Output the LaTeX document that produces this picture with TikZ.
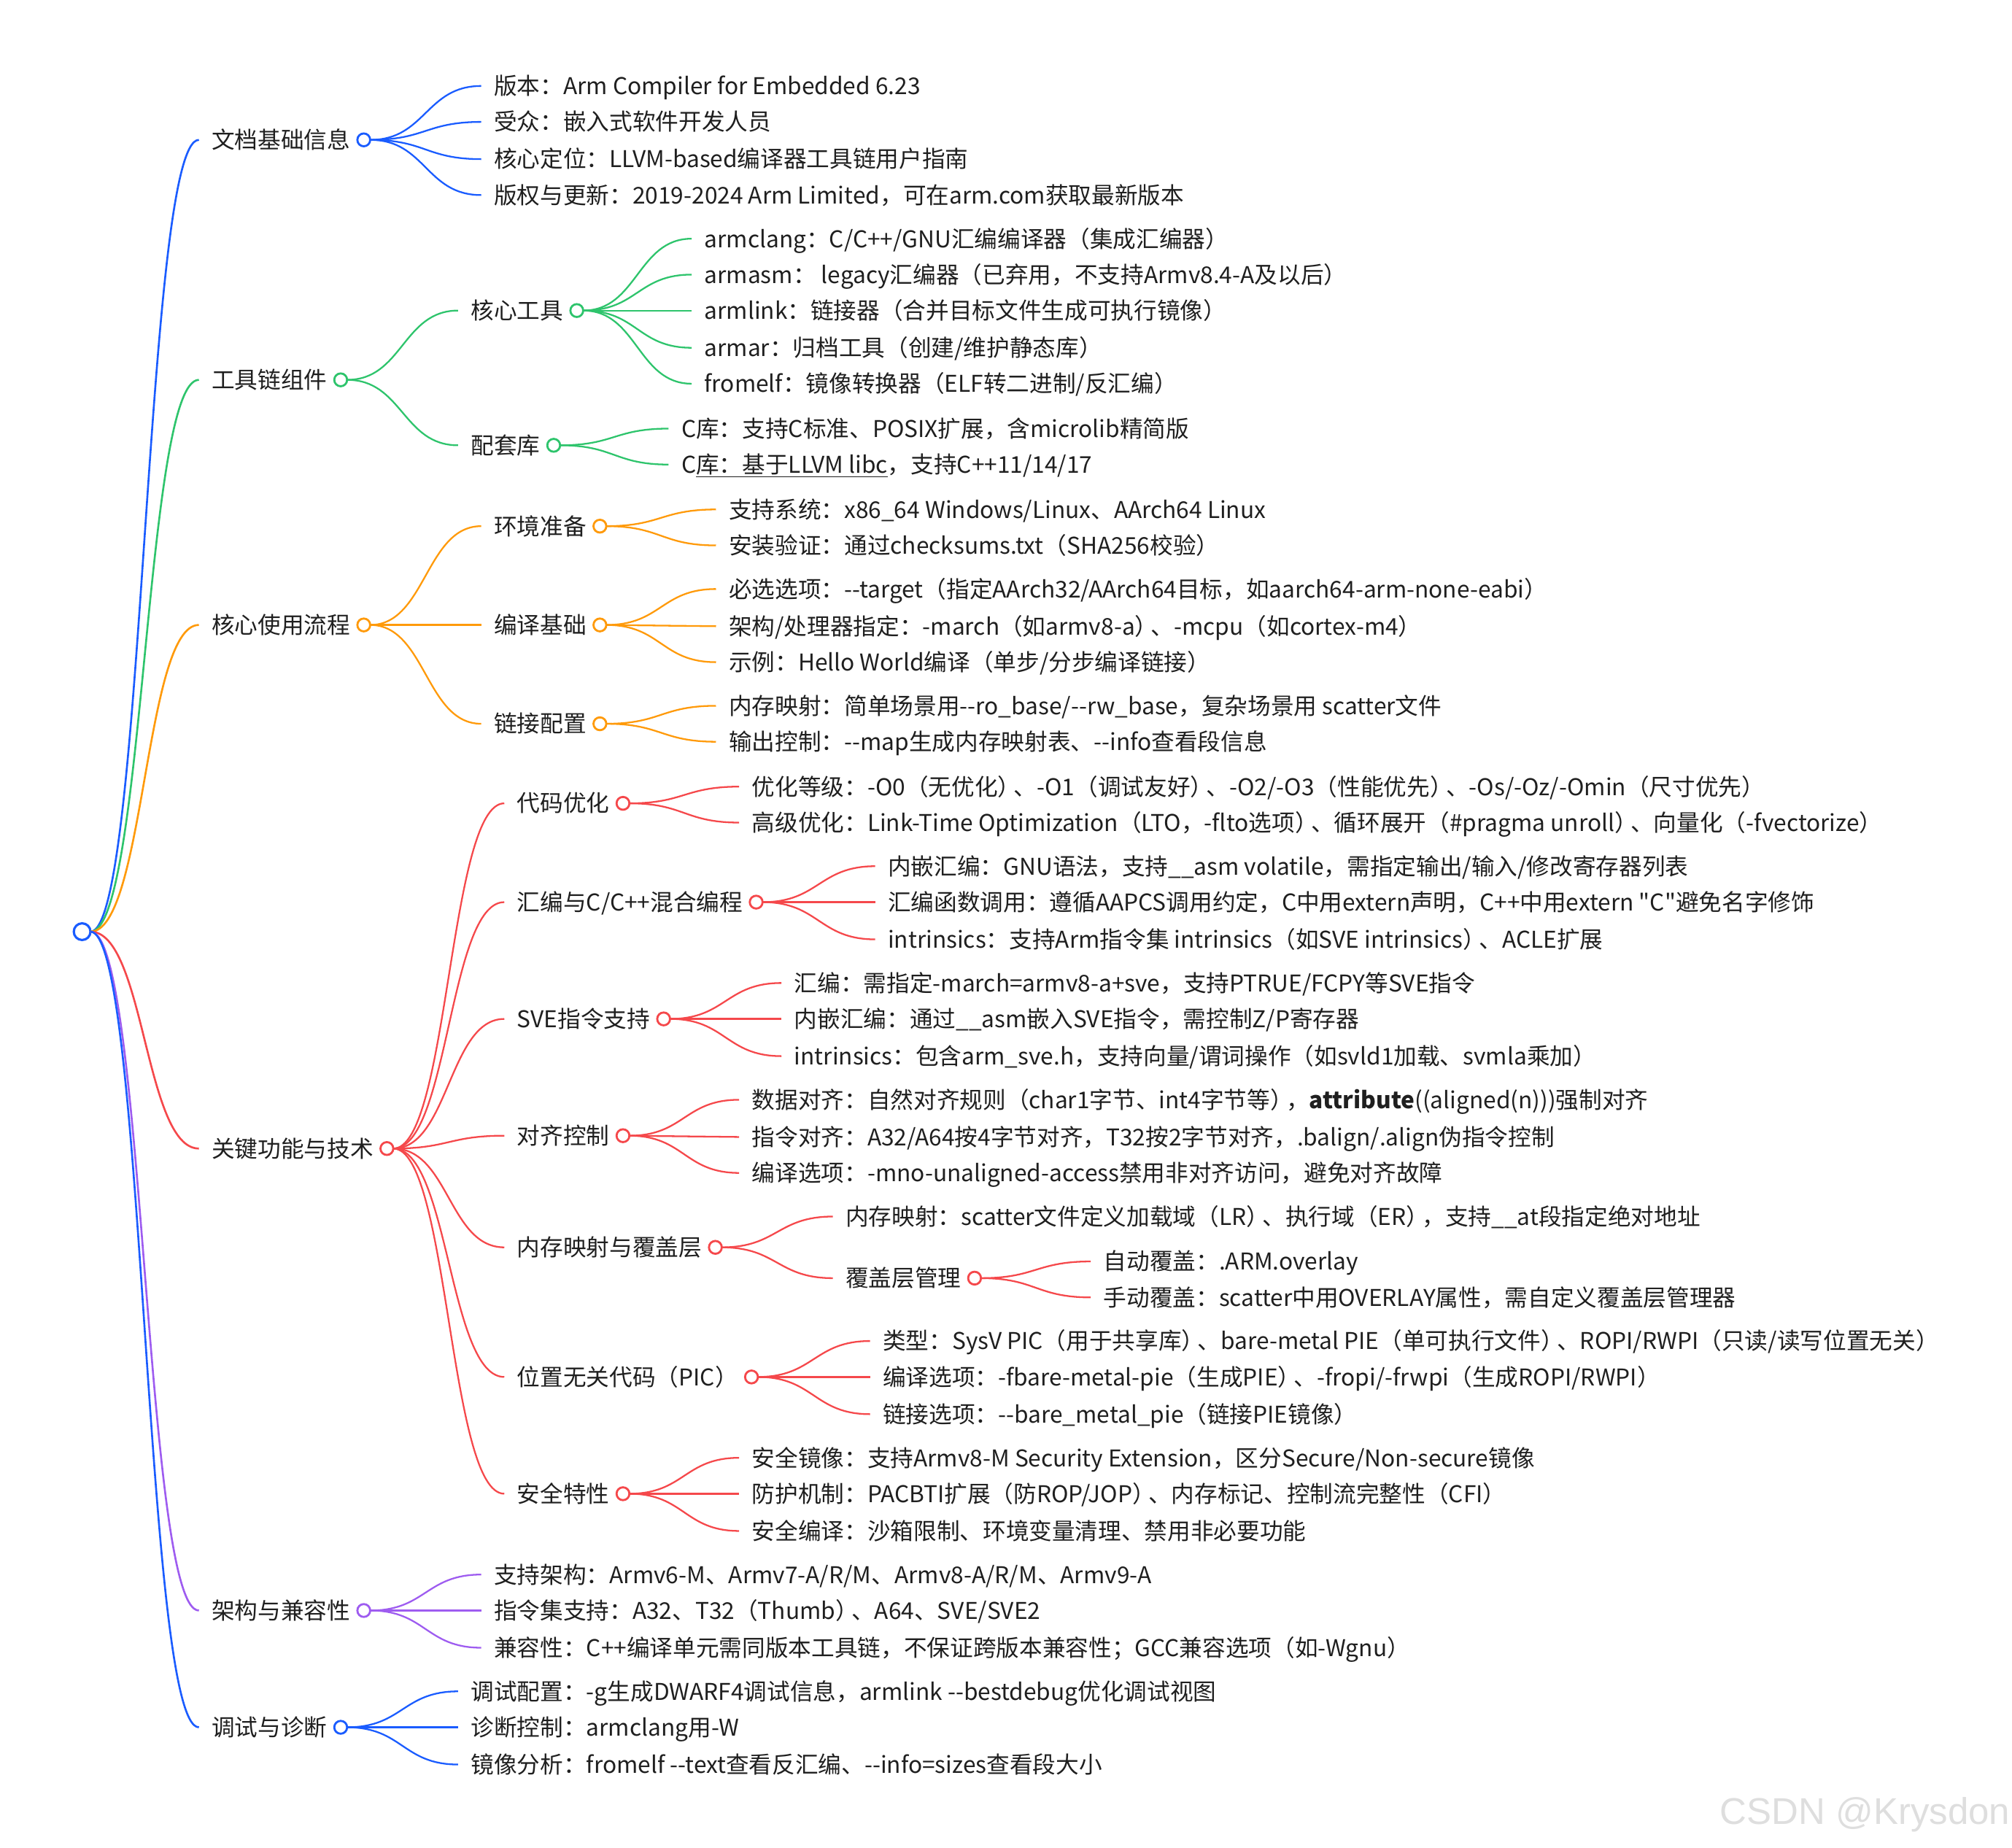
\documentclass[tikz,border=0pt]{standalone}
\usepackage{fontspec}
\setmainfont{Noto Sans CJK SC}[Ligatures=TeXOff]
\newfontfamily\wmfont{Liberation Sans}
\usetikzlibrary{calc,positioning}
\definecolor{mmblue}{HTML}{1A5CFF}
\definecolor{mmgreen}{HTML}{2EC46C}
\definecolor{mmorange}{HTML}{FF9A0A}
\definecolor{mmred}{HTML}{F5484B}
\definecolor{mmpurple}{HTML}{9E5CF0}
% squeeze between two CJK punctuation marks
\newcommand\cpk{\kern-5.5pt}
\begin{document}
\begin{tikzpicture}[x=1pt, y=-1pt,
  every node/.style={font=\fontsize{18}{20}\selectfont, text=black!88},
  txt/.style={anchor=west, inner sep=0pt, outer xsep=10pt, text height=15.5pt, text depth=2pt},
  knob/.style={circle, draw=#1, fill=white, line width=1.6pt, minimum size=10pt, inner sep=0pt, outer sep=0pt},
  lk/.style={line width=1.3pt, to path={let \p1=(\tikztostart), \p2=(\tikztotarget), \n1={0.5*\x1+0.5*\x2} in .. controls (\n1,\y1) and (\n1,\y2) .. (\tikztotarget)}}]
  \useasboundingbox (0,0) rectangle (1568,1440);
  % root
  \node[knob=mmblue, minimum size=13pt, line width=1.8pt] (root) at (64,726) {};
  % first level
  \foreach \s/\y/\c/\t in {A/109/mmblue/{文档基础信息}, B/296/mmgreen/{工具链组件}, C/487/mmorange/{核心使用流程}, D/895/mmred/{关键功能与技术}, E/1255/mmpurple/{架构与兼容性}, F/1346/mmblue/{调试与诊断}} {
    \node[txt] (\s) at (155,\y) {\t};
    \node[knob=\c, right=-4.5pt of \s] (\s-k) {};
    \draw[lk, \c, line width=1.5pt] (root.east) to (\s.west);
  }
  % 文档基础信息
  \foreach \y/\t [count=\i] in {67/{版本：Arm Compiler for Embedded 6.23}, 95/{受众：嵌入式软件开发人员}, 124/{核心定位：LLVM-based编译器工具链用户指南}, 152/{版权与更新：2019-2024 Arm Limited，可在arm.com获取最新版本}} {
    \node[txt] (A\i) at (375,\y) {\t};
    \draw[lk, mmblue] (A-k.east) to (A\i.west);
  }
  % 工具链组件
  \node[txt] (B1) at (357,242) {核心工具};
  \node[knob=mmgreen, right=-4.5pt of B1] (B1-k) {};
  \node[txt] (B2) at (357,347) {配套库};
  \node[knob=mmgreen, right=-4.5pt of B2] (B2-k) {};
  \foreach \s in {B1,B2} \draw[lk, mmgreen] (B-k.east) to (\s.west);
  \foreach \y/\t [count=\i] in {186/{armclang：C/C++/GNU汇编编译器（集成汇编器）}, 214/{armasm： legacy汇编器（已弃用，不支持Armv8.4-A及以后）}, 242/{armlink：链接器（合并目标文件生成可执行镜像）}, 271/{armar：归档工具（创建/维护静态库）}, 299/{fromelf：镜像转换器（ELF转二进制/反汇编）}} {
    \node[txt] (B1\i) at (539,\y) {\t};
    \draw[lk, mmgreen] (B1-k.east) to (B1\i.west);
  }
  \foreach \y/\t [count=\i] in {334/{C库：支持C标准、POSIX扩展，含microlib精简版}, 362/{C\underline{库：基于LLVM libc}，支持C++11/14/17}} {
    \node[txt] (B2\i) at (521,\y) {\t};
    \draw[lk, mmgreen] (B2-k.east) to (B2\i.west);
  }
  % 核心使用流程
  \foreach \s/\y/\t in {C1/410/{环境准备}, C2/487/{编译基础}, C3/564/{链接配置}} {
    \node[txt] (\s) at (375,\y) {\t};
    \node[knob=mmorange, right=-4.5pt of \s] (\s-k) {};
    \draw[lk, mmorange] (C-k.east) to (\s.west);
  }
  \foreach \y/\t [count=\i] in {397/{支持系统：x86\_64 Windows/Linux、AArch64 Linux}, 425/{安装验证：通过checksums.txt（SHA256校验）}} {
    \node[txt] (C1\i) at (558,\y) {\t};
    \draw[lk, mmorange] (C1-k.east) to (C1\i.west);
  }
  \foreach \y/\t [count=\i] in {459/{必选选项：--target（指定AArch32/AArch64目标，如aarch64-arm-none-eabi）}, 488/{架构/处理器指定：-march（如armv8-a）\cpk、-mcpu（如cortex-m4）}, 516/{示例：Hello World编译（单步/分步编译链接）}} {
    \node[txt] (C2\i) at (558,\y) {\t};
    \draw[lk, mmorange] (C2-k.east) to (C2\i.west);
  }
  \foreach \y/\t [count=\i] in {550/{内存映射：简单场景用--ro\_base/--rw\_base，复杂场景用 scatter文件}, 578/{输出控制：--map生成内存映射表、--info查看段信息}} {
    \node[txt] (C3\i) at (558,\y) {\t};
    \draw[lk, mmorange] (C3-k.east) to (C3\i.west);
  }
  % 关键功能与技术
  \foreach \s/\y/\t in {D1/626/{代码优化}, D2/703/{汇编与C/C++混合编程}, D3/794/{SVE指令支持}, D4/885/{对齐控制}, D5/972/{内存映射与覆盖层}, D6/1073/{位置无关代码（PIC）}, D7/1164/{安全特性}} {
    \node[txt] (\s) at (393,\y) {\t};
    \node[knob=mmred, right=-4.5pt of \s] (\s-k) {};
    \draw[lk, mmred] (D-k.east) to (\s.west);
  }
  \foreach \y/\t [count=\i] in {613/{优化等级：-O0（无优化）\cpk、-O1（调试友好）\cpk、-O2/-O3（性能优先）\cpk、-Os/-Oz/-Omin（尺寸优先）}, 641/{高级优化：Link-Time Optimization（LTO，-flto选项）\cpk、循环展开（\#pragma unroll）\cpk、向量化（-fvectorize）}} {
    \node[txt] (D1\i) at (576,\y) {\t};
    \draw[lk, mmred] (D1-k.east) to (D1\i.west);
  }
  \foreach \y/\t [count=\i] in {675/{内嵌汇编：GNU语法，支持\_\_asm volatile，需指定输出/输入/修改寄存器列表}, 703/{汇编函数调用：遵循AAPCS调用约定，C中用extern声明，C++中用extern "C"避免名字修饰}, 732/{intrinsics：支持Arm指令集 intrinsics（如SVE intrinsics）\cpk、ACLE扩展}} {
    \node[txt] (D2\i) at (682,\y) {\t};
    \draw[lk, mmred] (D2-k.east) to (D2\i.west);
  }
  \foreach \y/\t [count=\i] in {766/{汇编：需指定-march=armv8-a+sve，支持PTRUE/FCPY等SVE指令}, 794/{内嵌汇编：通过\_\_asm嵌入SVE指令，需控制Z/P寄存器}, 823/{intrinsics：包含arm\_sve.h，支持向量/谓词操作（如svld1加载、svmla乘加）}} {
    \node[txt] (D3\i) at (609,\y) {\t};
    \draw[lk, mmred] (D3-k.east) to (D3\i.west);
  }
  \foreach \y/\t [count=\i] in {857/{数据对齐：自然对齐规则（char1字节、int4字节等）\cpk，\textbf{attribute}((aligned(n)))强制对齐}, 886/{指令对齐：A32/A64按4字节对齐，T32按2字节对齐，.balign/.align伪指令控制}, 914/{编译选项：-mno-unaligned-access禁用非对齐访问，避免对齐故障}} {
    \node[txt] (D4\i) at (576,\y) {\t};
    \draw[lk, mmred] (D4-k.east) to (D4\i.west);
  }
  \node[txt] (D51) at (649,948) {内存映射：scatter文件定义加载域（LR）\cpk、执行域（ER）\cpk，支持\_\_at段指定绝对地址};
  \node[txt] (D52) at (649,996) {覆盖层管理};
  \node[knob=mmred, right=-4.5pt of D52] (D52-k) {};
  \foreach \s in {D51,D52} \draw[lk, mmred] (D5-k.east) to (\s.west);
  \foreach \y/\t [count=\i] in {983/{自动覆盖：.ARM.overlay}, 1011/{手动覆盖：scatter中用OVERLAY属性，需自定义覆盖层管理器}} {
    \node[txt] (D52\i) at (850,\y) {\t};
    \draw[lk, mmred] (D52-k.east) to (D52\i.west);
  }
  \foreach \y/\t [count=\i] in {1045/{类型：SysV PIC（用于共享库）\cpk、bare-metal PIE（单可执行文件）\cpk、ROPI/RWPI（只读/读写位置无关）}, 1073/{编译选项：-fbare-metal-pie（生成PIE）\cpk、-fropi/-frwpi（生成ROPI/RWPI）}, 1102/{链接选项：--bare\_metal\_pie（链接PIE镜像）}} {
    \node[txt] (D6\i) at (678,\y) {\t};
    \draw[lk, mmred] (D6-k.east) to (D6\i.west);
  }
  \foreach \y/\t [count=\i] in {1136/{安全镜像：支持Armv8-M Security Extension，区分Secure/Non-secure镜像}, 1164/{防护机制：PACBTI扩展（防ROP/JOP）\cpk、内存标记、控制流完整性（CFI）}, 1193/{安全编译：沙箱限制、环境变量清理、禁用非必要功能}} {
    \node[txt] (D7\i) at (576,\y) {\t};
    \draw[lk, mmred] (D7-k.east) to (D7\i.west);
  }
  % 架构与兼容性
  \foreach \y/\t [count=\i] in {1227/{支持架构：Armv6-M、Armv7-A/R/M、Armv8-A/R/M、Armv9-A}, 1255/{指令集支持：A32、T32（Thumb）\cpk、A64、SVE/SVE2}, 1284/{兼容性：C++编译单元需同版本工具链，不保证跨版本兼容性；GCC兼容选项（如-Wgnu）}} {
    \node[txt] (E\i) at (375,\y) {\t};
    \draw[lk, mmpurple] (E-k.east) to (E\i.west);
  }
  % 调试与诊断
  \foreach \y/\t [count=\i] in {1318/{调试配置：-g生成DWARF4调试信息，armlink --bestdebug优化调试视图}, 1346/{诊断控制：armclang用-W}, 1375/{镜像分析：fromelf --text查看反汇编、--info=sizes查看段大小}} {
    \node[txt] (F\i) at (357,\y) {\t};
    \draw[lk, mmblue] (F-k.east) to (F\i.west);
  }
  \node[font=\wmfont\fontsize{29}{29}\selectfont, text=black!13, anchor=east] (wm) at (1570,1414) {CSDN @Krysdon};
\end{tikzpicture}
\end{document}
